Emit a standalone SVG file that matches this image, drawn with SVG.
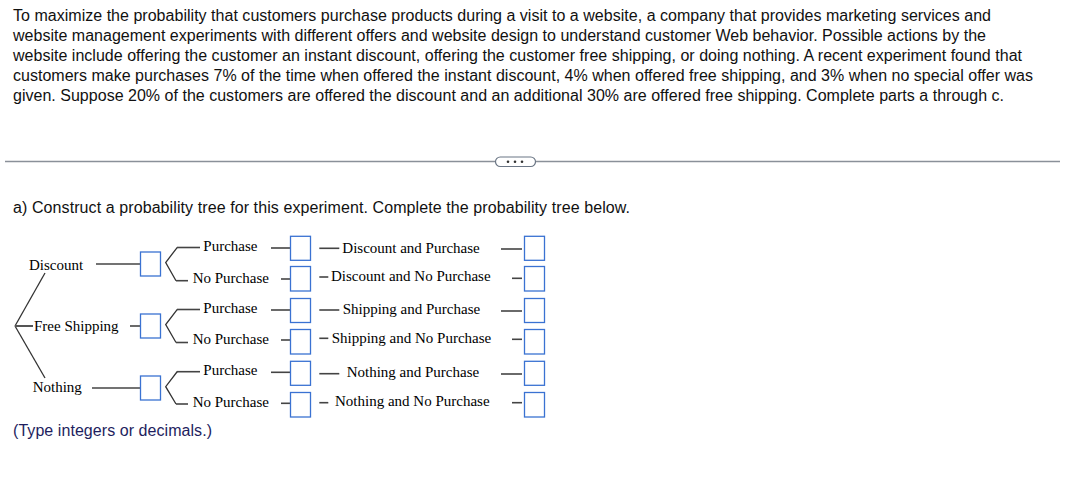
<svg xmlns="http://www.w3.org/2000/svg" width="1065" height="488" viewBox="0 0 1065 488">
<style>
.p{font-family:"Liberation Sans",Arial,sans-serif;font-size:16px;fill:#111}
.t{font-family:"Liberation Serif","Times New Roman",serif;font-size:15px;fill:#000}
.ln{stroke:#333;stroke-width:1.3;fill:none}
.dl{stroke:#444;stroke-width:1.6;fill:none}
.bx{fill:#fff;stroke:#3a72d2;stroke-width:1.3}
</style>
<rect width="1065" height="488" fill="#fff"/>
<g id="problem">
<text class="p" x="13" y="21" textLength="978" lengthAdjust="spacing">To maximize the probability that customers purchase products during a visit to a website, a company that provides marketing services and</text>
<text class="p" x="13" y="41" textLength="973" lengthAdjust="spacing">website management experiments with different offers and website design to understand customer Web behavior. Possible actions by the</text>
<text class="p" x="13" y="61" textLength="1009" lengthAdjust="spacing">website include offering the customer an instant discount, offering the customer free shipping, or doing nothing. A recent experiment found that</text>
<text class="p" x="13" y="81" textLength="1020" lengthAdjust="spacing">customers make purchases 7% of the time when offered the instant discount, 4% when offered free shipping, and 3% when no special offer was</text>
<text class="p" x="13" y="101" textLength="991" lengthAdjust="spacing">given. Suppose 20% of the customers are offered the discount and an additional 30% are offered free shipping. Complete parts a through c.</text>
</g>
<g id="separator">
<line x1="5" y1="161.5" x2="1060" y2="161.5" stroke="#8a9099" stroke-width="1.5"/>
<rect x="495.5" y="157" width="40" height="9.5" rx="4.75" fill="#fff" stroke="#6b7685" stroke-width="1.2"/>
<circle cx="508" cy="161.8" r="1.3" fill="#333"/>
<circle cx="515" cy="161.8" r="1.3" fill="#333"/>
<circle cx="522" cy="161.8" r="1.3" fill="#333"/>
</g>
<text class="p" x="13" y="213" textLength="617" lengthAdjust="spacing">a) Construct a probability tree for this experiment. Complete the probability tree below.</text>
<g id="connectors">
<line class="ln" x1="15" y1="326" x2="45" y2="273"/>
<line class="ln" x1="15" y1="326" x2="45" y2="378"/>
<line x1="15" y1="326" x2="33" y2="326" stroke="#555" stroke-width="2"/>
<line class="dl" x1="96" y1="264" x2="140" y2="264"/>
<line class="dl" x1="130" y1="326" x2="140" y2="326"/>
<line class="dl" x1="92" y1="388" x2="140" y2="388"/>
<polyline class="ln" points="177.3,247.3 165.7,262.5 176,280.7"/>
<polyline class="ln" points="177.3,309.3 165.7,324.5 176,342.5"/>
<polyline class="ln" points="177.3,371.5 165.7,386.7 176,404"/>
<line class="dl" x1="177" y1="247.5" x2="200" y2="247.5"/>
<line class="dl" x1="176" y1="280.7" x2="188" y2="280.7"/>
<line class="dl" x1="177" y1="309.5" x2="200" y2="309.5"/>
<line class="dl" x1="176" y1="342.5" x2="188" y2="342.5"/>
<line class="dl" x1="177" y1="371.7" x2="200" y2="371.7"/>
<line class="dl" x1="176" y1="404" x2="188" y2="404"/>
<line class="dl" x1="271" y1="248" x2="290" y2="248"/>
<line class="dl" x1="281" y1="279" x2="290" y2="279"/>
<line class="dl" x1="271" y1="310" x2="290" y2="310"/>
<line class="dl" x1="281" y1="340" x2="290" y2="340"/>
<line class="dl" x1="271" y1="372.3" x2="290" y2="372.3"/>
<line class="dl" x1="281" y1="403.3" x2="290" y2="403.3"/>
<line class="dl" x1="319.3" y1="248.3" x2="339.3" y2="248.3"/>
<line class="dl" x1="319.3" y1="277" x2="328.3" y2="277"/>
<line class="dl" x1="319.3" y1="310" x2="339.3" y2="310"/>
<line class="dl" x1="319.3" y1="338.3" x2="328.3" y2="338.3"/>
<line class="dl" x1="319.3" y1="373.7" x2="339.3" y2="373.7"/>
<line class="dl" x1="319.3" y1="402.7" x2="328.3" y2="402.7"/>
<line class="dl" x1="501" y1="249" x2="522" y2="249"/>
<line class="dl" x1="512" y1="278.3" x2="522" y2="278.3"/>
<line class="dl" x1="501" y1="311" x2="522" y2="311"/>
<line class="dl" x1="512" y1="339.3" x2="522" y2="339.3"/>
<line class="dl" x1="501" y1="374" x2="522" y2="374"/>
<line class="dl" x1="512" y1="402.7" x2="522" y2="402.7"/>
</g>
<g id="node-discount"><text class="t" x="29" y="269.5">Discount</text><rect class="bx" x="140.5" y="252" width="20" height="24"/></g>
<g id="node-free-shipping"><text class="t" x="34" y="330.5">Free Shipping</text><rect class="bx" x="140.5" y="314" width="20" height="24"/></g>
<g id="node-nothing"><text class="t" x="32.7" y="392">Nothing</text><rect class="bx" x="140.5" y="376" width="20" height="24"/></g>
<g id="node-d-p"><text class="t" x="203.3" y="251">Purchase</text><rect class="bx" x="290.5" y="236.3" width="20" height="24"/></g>
<g id="node-d-np"><text class="t" x="192.7" y="283">No Purchase</text><rect class="bx" x="290.5" y="266.5" width="20" height="24.5"/></g>
<g id="node-s-p"><text class="t" x="203.3" y="312.5">Purchase</text><rect class="bx" x="290.5" y="298.5" width="20" height="24"/></g>
<g id="node-s-np"><text class="t" x="192.7" y="344">No Purchase</text><rect class="bx" x="290.5" y="329.5" width="20" height="24.5"/></g>
<g id="node-n-p"><text class="t" x="203.3" y="375">Purchase</text><rect class="bx" x="290.5" y="361.3" width="20" height="24"/></g>
<g id="node-n-np"><text class="t" x="192.7" y="407">No Purchase</text><rect class="bx" x="290.5" y="392.5" width="20" height="24.5"/></g>
<g id="node-dp"><text class="t" x="342.3" y="252.5">Discount and Purchase</text><rect class="bx" x="524.5" y="236.3" width="20" height="24"/></g>
<g id="node-dnp"><text class="t" x="331" y="280.5">Discount and No Purchase</text><rect class="bx" x="524.5" y="266.5" width="20" height="24.5"/></g>
<g id="node-sp"><text class="t" x="342.7" y="314">Shipping and Purchase</text><rect class="bx" x="524.5" y="298.5" width="20" height="24"/></g>
<g id="node-snp"><text class="t" x="331.7" y="342.5">Shipping and No Purchase</text><rect class="bx" x="524.5" y="329.5" width="20" height="24.5"/></g>
<g id="node-np"><text class="t" x="346.7" y="377">Nothing and Purchase</text><rect class="bx" x="524.5" y="361.3" width="20" height="24"/></g>
<g id="node-nnp"><text class="t" x="335" y="406">Nothing and No Purchase</text><rect class="bx" x="524.5" y="392.5" width="20" height="24.5"/></g>
<text x="13" y="436" font-family="Liberation Sans, Arial, sans-serif" font-size="16" fill="#1e1e5e" textLength="199" lengthAdjust="spacing">(Type integers or decimals.)</text>
</svg>
